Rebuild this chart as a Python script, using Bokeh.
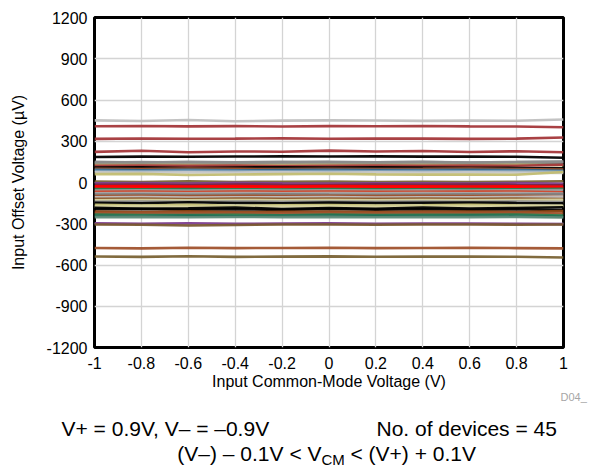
from bokeh.plotting import figure
from bokeh.layouts import column
from bokeh.models import FixedTicker, Range1d, ColumnDataSource
from bokeh.core.properties import value
from bokeh.embed import file_html
from bokeh.resources import INLINE

# ---- data ----
x_vcm = [-1.0, -0.8, -0.6, -0.4, -0.2, 0.0, 0.2, 0.4, 0.6, 0.8, 1.0]

dev01 = [452, 447, 454, 446, 450, 452, 451, 448, 450, 449, 458]
dev02 = [409, 411, 408, 410, 407, 410, 409, 411, 408, 407, 402]
dev03 = [317, 320, 318, 319, 321, 318, 320, 319, 317, 319, 327]
dev04 = [223, 231, 220, 226, 224, 232, 225, 229, 222, 227, 220]
dev05 = [186, 188, 187, 189, 190, 189, 190, 188, 189, 187, 180]
dev06 = [151, 146, 150, 147, 151, 148, 147, 150, 146, 148, 152]
dev07 = [140, 142, 137, 140, 142, 138, 141, 139, 140, 138, 144]
dev08 = [131, 129, 132, 128, 130, 131, 129, 130, 128, 131, 126]
dev09 = [122, 124, 121, 123, 120, 122, 124, 121, 123, 122, 129]
dev10 = [109, 111, 106, 109, 111, 108, 110, 109, 107, 106, 103]
dev11 = [100, 98, 101, 99, 97, 100, 98, 99, 101, 98, 95]
dev12 = [92, 89, 93, 88, 91, 93, 90, 91, 93, 90, 85]
dev13 = [84, 82, 85, 83, 81, 84, 82, 83, 81, 84, 79]
dev14 = [74, 72, 75, 73, 74, 72, 75, 73, 74, 72, 70]
dev15 = [61, 63, 54, 58, 61, 64, 59, 57, 58, 56, 76]
dev16 = [7, 4, 8, 3, 6, 7, 4, 5, 3, 6, 9]
dev17 = [-6, -4, -8, -3, -6, -7, -5, -6, -7, -4, -9]
dev18 = [-17, -15, -19, -14, -17, -18, -15, -17, -15, -18, -20]
dev19 = [-27, -25, -30, -26, -29, -25, -28, -27, -29, -28, -32]
dev20 = [-36, -34, -37, -34, -36, -35, -37, -36, -35, -34, -39]
dev21 = [-48, -50, -47, -49, -51, -48, -50, -49, -48, -50, -45]
dev22 = [-58, -56, -59, -57, -58, -56, -59, -57, -58, -56, -54]
dev23 = [-67, -66, -69, -65, -67, -66, -68, -67, -66, -65, -71]
dev24 = [-78, -76, -79, -77, -78, -76, -79, -77, -78, -76, -81]
dev25 = [-88, -86, -89, -87, -86, -88, -89, -87, -86, -88, -84]
dev26 = [-98, -96, -99, -97, -98, -96, -99, -97, -98, -96, -101]
dev27 = [-108, -106, -109, -107, -108, -106, -109, -107, -108, -106, -103]
dev28 = [-118, -116, -120, -117, -118, -116, -119, -117, -118, -116, -121]
dev29 = [-129, -127, -130, -128, -129, -127, -130, -128, -129, -127, -125]
dev30 = [-140, -138, -141, -139, -140, -138, -141, -139, -140, -138, -143]
dev31 = [-147, -151, -144, -149, -151, -146, -150, -147, -145, -149, -152]
dev32 = [-163, -167, -162, -169, -166, -164, -168, -166, -163, -167, -172]
dev33 = [-175, -173, -176, -174, -175, -173, -176, -174, -175, -173, -170]
dev34 = [-184, -191, -188, -182, -193, -186, -191, -183, -189, -186, -180]
dev35 = [-195, -192, -198, -194, -199, -193, -197, -194, -198, -195, -201]
dev36 = [-211, -214, -210, -215, -213, -211, -214, -212, -211, -214, -208]
dev37 = [-222, -220, -223, -221, -222, -220, -223, -221, -222, -220, -226]
dev38 = [-233, -236, -237, -234, -239, -233, -237, -234, -235, -233, -241]
dev39 = [-242, -244, -240, -245, -242, -241, -243, -242, -241, -243, -249]
dev40 = [-297, -300, -296, -301, -299, -297, -300, -299, -298, -300, -303]
dev41 = [-305, -307, -313, -309, -306, -305, -307, -306, -305, -307, -306]
dev42 = [-476, -479, -475, -477, -476, -474, -477, -476, -475, -477, -479]
dev43 = [-538, -541, -536, -541, -539, -537, -540, -539, -538, -540, -546]
dev44 = [146, 149, 145, 147, 146, 150, 147, 148, 146, 149, 151]
dev45 = [-252, -250, -253, -251, -252, -250, -253, -251, -252, -250, -255]

devices = [dev01, dev02, dev03, dev04, dev05, dev06, dev07, dev08, dev09, dev10,
           dev11, dev12, dev13, dev14, dev15, dev16, dev17, dev18, dev19, dev20,
           dev21, dev22, dev23, dev24, dev25, dev26, dev27, dev28, dev29, dev30,
           dev31, dev32, dev33, dev34, dev35, dev36, dev37, dev38, dev39, dev40,
           dev41, dev42, dev43, dev44, dev45]

colors = ["#c0c0c0", "#a4373a", "#a4373a", "#a4373a", "#000000", "#8c8c8c", "#6e6e6e",
          "#c2bd72", "#a4373a", "#000000", "#a0522d", "#2f6a8f", "#7f9fb5", "#c8c8c8",
          "#c2bd72", "#7a6335", "#7e3f8f", "#7a2040", "#ff0000", "#ff0000", "#2b7a4b",
          "#9a9a9a", "#d2452a", "#a8a8a8", "#808080", "#a0522d", "#c0c0c0", "#8b5a2b",
          "#d6d2a0", "#8c8c8c", "#000000", "#c2bd72", "#d6d2a0", "#000000", "#000000",
          "#8b4513", "#a0522d", "#2b7a4b", "#1f6e55", "#7e3f8f", "#7a5a30", "#a0522d",
          "#7a6335", "#8c8c8c", "#5e8a78"]

x_ticks = [-1.0, -0.8, -0.6, -0.4, -0.2, 0.0, 0.2, 0.4, 0.6, 0.8, 1.0]
x_tick_labels = ["-1", "-0.8", "-0.6", "-0.4", "-0.2", "0", "0.2", "0.4", "0.6", "0.8", "1"]
y_ticks = [-1200, -900, -600, -300, 0, 300, 600, 900, 1200]
y_tick_labels = ["-1200", "-900", "-600", "-300", "0", "300", "600", "900", "1200"]

x_title = "Input Common-Mode Voltage (V)"
y_title = "Input Offset Voltage (\u00b5V)"

note_id = "D04_"
note_supply = "V+ = 0.9V, V\u2013 = \u20130.9V"
note_count = "No. of devices = 45"
note_range_a = "(V\u2013) \u2013 0.1V < V"
note_range_sub = "CM"
note_range_b = "< (V+) + 0.1V"

FONT = "Liberation Sans"

# ---- main chart ----
p = figure(width=593, height=392,
           min_border_left=94, min_border_top=17, min_border_right=30, min_border_bottom=44,
           x_range=Range1d(-1, 1), y_range=Range1d(-1200, 1200),
           output_backend="svg", toolbar_location=None)

for ys, c in zip(devices, colors):
    src = ColumnDataSource(dict(x=x_vcm, y=ys))
    p.line("x", "y", source=src, line_color=c, line_width=2.6, line_alpha=0.95)

p.outline_line_color = "black"
p.outline_line_width = 3
p.background_fill_color = "white"
p.border_fill_color = "white"

p.xaxis.ticker = FixedTicker(ticks=x_ticks)
p.yaxis.ticker = FixedTicker(ticks=y_ticks)
p.xaxis.major_label_overrides = {t: s for t, s in zip(x_ticks, x_tick_labels)}
p.yaxis.major_label_overrides = {t: s for t, s in zip(y_ticks, y_tick_labels)}

for ax in (p.xaxis[0], p.yaxis[0]):
    ax.axis_line_color = None
    ax.major_tick_line_color = None
    ax.minor_tick_line_color = None
    ax.major_tick_out = 0
    ax.major_tick_in = 0
    ax.major_label_text_font = FONT
    ax.major_label_text_font_size = "16px"
    ax.major_label_text_color = "black"
    ax.axis_label_text_font = FONT
    ax.axis_label_text_font_size = "16px"
    ax.axis_label_text_font_style = "normal"
    ax.axis_label_text_color = "black"

p.xaxis.axis_label = x_title
p.yaxis.axis_label = y_title
p.xaxis.major_label_standoff = 9
p.xaxis.axis_label_standoff = 1
p.yaxis.major_label_standoff = 7
p.yaxis.axis_label_standoff = 17

p.xgrid.grid_line_color = "#d4d4d4"
p.ygrid.grid_line_color = "#d4d4d4"
p.xgrid.grid_line_width = 1.3
p.ygrid.grid_line_width = 1.3

# ---- notes panel below the chart (pixel coordinates, y downward) ----
q = figure(width=593, height=77, x_range=Range1d(0, 593), y_range=Range1d(77, 0),
           min_border=0, min_border_left=0, min_border_right=0,
           min_border_top=0, min_border_bottom=0,
           output_backend="svg", toolbar_location=None)
q.axis.visible = False
q.grid.visible = False
q.outline_line_color = None
q.background_fill_color = "white"
q.border_fill_color = "white"

for fig in (p, q):
    if "frame_align" in fig.properties():
        fig.frame_align = False

def note(x, y, text, size, color="black", align="left"):
    q.text(x=[x], y=[y], text=[text], text_font=value(FONT), text_font_size=size,
           text_color=color, text_align=align, text_baseline="middle")

note(560, 4, note_id, "11px", color="#a6a6a6")
note(61, 36, note_supply, "21px")
note(376, 36, note_count, "21px")
note(321, 61, note_range_a, "21px", align="right")
note(321, 67, note_range_sub, "15px")
note(350, 61, note_range_b, "21px")

layout = column(p, q, spacing=0)
open("out.html", "w").write(file_html(layout, INLINE))
